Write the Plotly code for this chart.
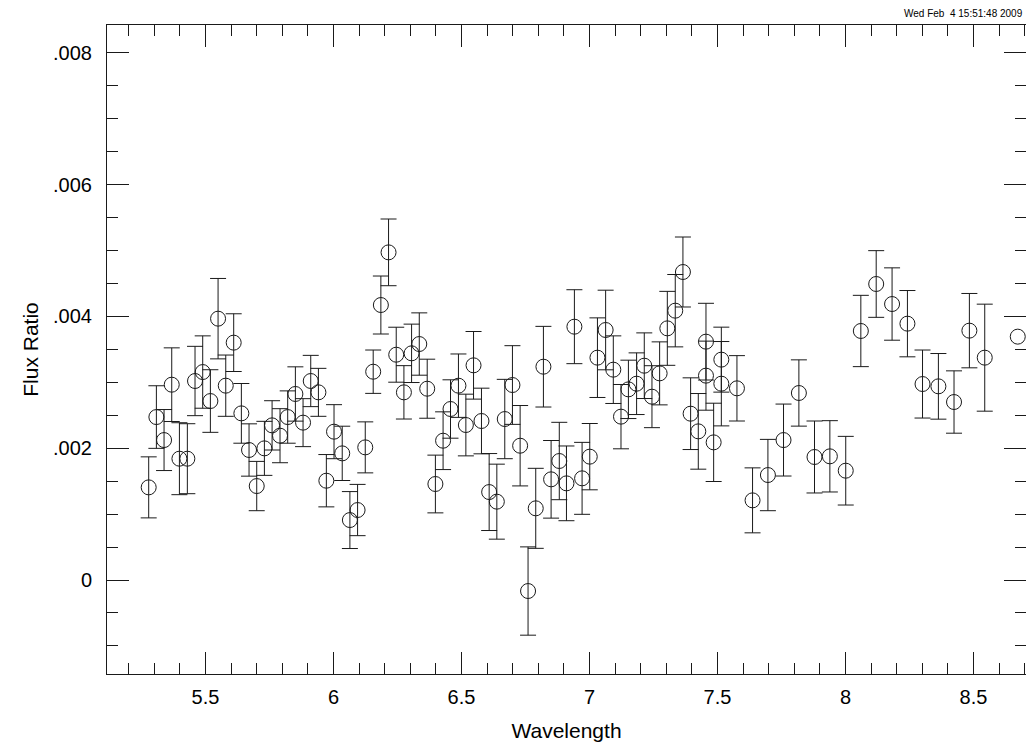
import plotly.graph_objects as go

# Wavelength (micron)
wavelength = [
    5.278, 5.308, 5.338, 5.368, 5.398, 5.429, 5.459, 5.489, 5.519, 5.549,
    5.579, 5.610, 5.640, 5.670, 5.700, 5.730, 5.760, 5.791, 5.821, 5.851,
    5.881, 5.911, 5.941, 5.972, 6.002, 6.034, 6.064, 6.094, 6.124, 6.155,
    6.185, 6.215, 6.245, 6.275, 6.305, 6.335, 6.366, 6.398, 6.428, 6.457,
    6.488, 6.517, 6.547, 6.578, 6.608, 6.638, 6.669, 6.699, 6.729, 6.760,
    6.790, 6.820, 6.850, 6.882, 6.910, 6.941, 6.971, 7.001, 7.031, 7.063,
    7.093, 7.123, 7.152, 7.184, 7.214, 7.244, 7.274, 7.304, 7.335, 7.365,
    7.395, 7.425, 7.455, 7.455, 7.485, 7.515, 7.515, 7.576, 7.637, 7.697,
    7.758, 7.818, 7.879, 7.939, 8.001, 8.060, 8.120, 8.182, 8.242, 8.301,
    8.363, 8.424, 8.484, 8.544,
]

flux_ratio = [
    0.001406, 0.002473, 0.002124, 0.002964, 0.001841, 0.001841, 0.003020, 0.003156, 0.002716, 0.003966,
    0.002949, 0.003602, 0.002529, 0.001973, 0.001426, 0.001998, 0.002347, 0.002190, 0.002473, 0.002823,
    0.002388, 0.003020, 0.002848, 0.001507, 0.002251, 0.001922, 0.000910, 0.001062, 0.002013, 0.003161,
    0.004173, 0.004972, 0.003419, 0.002848, 0.003440, 0.003581, 0.002903, 0.001457, 0.002114, 0.002595,
    0.002949, 0.002352, 0.003258, 0.002413, 0.001335, 0.001189, 0.002443, 0.002959, 0.002038, -0.000167,
    0.001088, 0.003237, 0.001528, 0.001806, 0.001467, 0.003844, 0.001543, 0.001872, 0.003374, 0.003794,
    0.003192, 0.002479, 0.002893, 0.002979, 0.003252, 0.002782, 0.003136, 0.003819, 0.004087, 0.004674,
    0.002524, 0.002256, 0.003617, 0.003101, 0.002089, 0.003344, 0.002979, 0.002909, 0.001209, 0.001593,
    0.002124, 0.002838, 0.001867, 0.001877, 0.001659, 0.003779, 0.004492, 0.004188, 0.003890, 0.002974,
    0.002939, 0.002701, 0.003784, 0.003374,
]

flux_error = [
    0.000463, 0.000475, 0.000463, 0.000559, 0.000546, 0.000531, 0.000526, 0.000549, 0.000475, 0.000610,
    0.000465, 0.000438, 0.000453, 0.000397, 0.000374, 0.000410, 0.000374, 0.000410, 0.000397, 0.000412,
    0.000364, 0.000389, 0.000364, 0.000397, 0.000410, 0.000412, 0.000432, 0.000389, 0.000387, 0.000329,
    0.000440, 0.000506, 0.000417, 0.000405, 0.000443, 0.000473, 0.000448, 0.000438, 0.000438, 0.000443,
    0.000481, 0.000468, 0.000513, 0.000498, 0.000584, 0.000569, 0.000602, 0.000597, 0.000610, 0.000670,
    0.000607, 0.000612, 0.000589, 0.000587, 0.000567, 0.000561, 0.000546, 0.000503, 0.000604, 0.000604,
    0.000513, 0.000488, 0.000443, 0.000468, 0.000498, 0.000470, 0.000478, 0.000561, 0.000549, 0.000531,
    0.000544, 0.000574, 0.000582, 0.000524, 0.000594, 0.000493, 0.000640, 0.000496, 0.000493, 0.000541,
    0.000546, 0.000503, 0.000546, 0.000541, 0.000521, 0.000541, 0.000506, 0.000549, 0.000503, 0.000516,
    0.000498, 0.000473, 0.000564, 0.000812,
]

# last point drawn without error bar
extra_wavelength = [8.673]
extra_flux = [0.003693]

x_tick_vals = [5.5, 6.0, 6.5, 7.0, 7.5, 8.0, 8.5]
x_tick_text = ["5.5", "6", "6.5", "7", "7.5", "8", "8.5"]
y_tick_vals = [0.0, 0.002, 0.004, 0.006, 0.008]
y_tick_text = ["0", ".002", ".004", ".006", ".008"]

FONT = "Liberation Sans, Arial, Helvetica, sans-serif"
INK = "#1a1a1a"

fig = go.Figure()
fig.add_trace(go.Scatter(
    x=wavelength, y=flux_ratio, mode="markers",
    marker=dict(symbol="circle-open", size=15, color=INK, line=dict(width=1, color=INK)),
    error_y=dict(type="data", array=flux_error, visible=True, color=INK, thickness=1, width=8),
    showlegend=False, hoverinfo="x+y",
))
fig.add_trace(go.Scatter(
    x=extra_wavelength, y=extra_flux, mode="markers",
    marker=dict(symbol="circle-open", size=15, color=INK, line=dict(width=1, color=INK)),
    showlegend=False, hoverinfo="x+y",
))

axis_common = dict(
    showline=True, linecolor=INK, linewidth=1, mirror="ticks",
    ticks="inside", ticklen=22, tickwidth=1, tickcolor=INK,
    showgrid=False, zeroline=False,
    tickfont=dict(family=FONT, size=20, color="black"),
)

fig.update_layout(
    width=1026, height=746,
    margin=dict(l=107, r=0, t=25, b=72),
    paper_bgcolor="white", plot_bgcolor="white",
    font=dict(family=FONT, color="black"),
    xaxis=dict(
        range=[5.1151, 8.7052],
        tickmode="array", tickvals=x_tick_vals, ticktext=x_tick_text,
        minor=dict(dtick=0.1, tick0=5.0, ticks="inside", ticklen=11, tickcolor=INK, tickwidth=1, showgrid=False),
        title=dict(text="Wavelength", font=dict(family=FONT, size=21), standoff=16),
        ticklabelstandoff=5,
        **axis_common,
    ),
    yaxis=dict(
        range=[-0.001426, 0.008422],
        tickmode="array", tickvals=y_tick_vals, ticktext=y_tick_text,
        minor=dict(dtick=0.0005, tick0=0.0, ticks="inside", ticklen=11, tickcolor=INK, tickwidth=1, showgrid=False),
        title=dict(text="Flux Ratio", font=dict(family=FONT, size=21), standoff=8),
        ticklabelstandoff=10,
        **axis_common,
    ),
    annotations=[dict(
        text="Wed Feb  4 15:51:48 2009".replace("  ", "&nbsp; "),
        xref="paper", yref="paper", x=1, y=1.017, xanchor="right", yanchor="middle",
        xshift=-1, showarrow=False, font=dict(family=FONT, size=10, color="black"),
    )],
)

fig.write_html("out.html")
